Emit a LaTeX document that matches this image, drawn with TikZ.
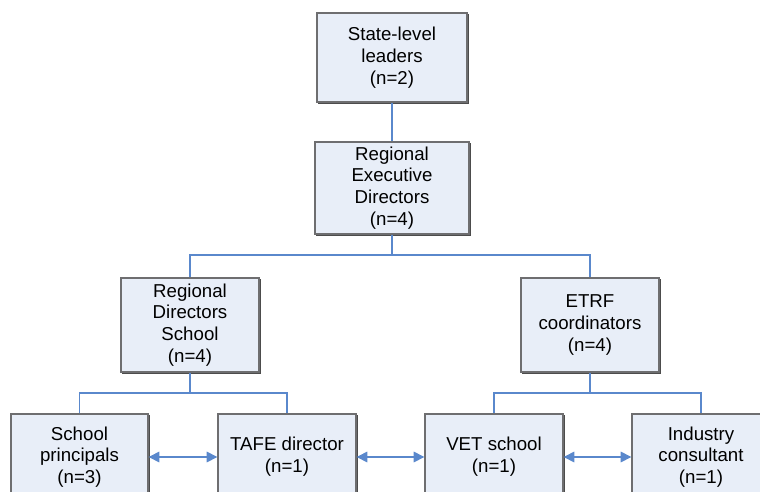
\documentclass[tikz,border=0pt]{standalone}
\usepackage{fontspec}
\setmainfont{Liberation Sans}
\usetikzlibrary{arrows.meta,shadows}
\definecolor{boxfill}{HTML}{E8EEF8}
\definecolor{boxline}{HTML}{6E6E70}
\definecolor{conn}{HTML}{5A88CC}
\begin{document}
\begin{tikzpicture}[x=0.75pt,y=-0.75pt,
  orgbox/.style={draw=boxline,line width=1pt,fill=boxfill,align=center,
    font=\fontsize{14pt}{16.3pt}\selectfont,inner sep=0pt,
    copy shadow={shadow xshift=0.9pt,shadow yshift=-0.9pt,draw=black!70,fill=black!70}},
  link/.style={draw=conn,line width=0.9pt},
  biarrow/.style={link,{Triangle[length=8pt,width=8pt]}-{Triangle[length=8pt,width=8pt]},fill=conn}]
\useasboundingbox (0,0) rectangle (760,492);
\begin{scope}
\clip (0,0) rectangle (760,492);
\node[orgbox,minimum width=112.5pt,minimum height=66.75pt] (state) at (392,57.5) {State-level\\leaders\\(n=2)};
\node[orgbox,minimum width=115.5pt,minimum height=69pt] (red) at (392,188) {Regional\\Executive\\Directors\\(n=4)};
\node[orgbox,minimum width=103.5pt,minimum height=70.5pt] (rds) at (190,325) {Regional\\Directors\\School\\(n=4)};
\node[orgbox,minimum width=103.5pt,minimum height=70.5pt] (etrf) at (590,325) {ETRF\\coordinators\\(n=4)};
\node[orgbox,minimum width=102.75pt,minimum height=64.5pt] (sp) at (79.5,457) {School\\principals\\(n=3)};
\node[orgbox,minimum width=103.5pt,minimum height=64.5pt] (tafe) at (287,457) {TAFE director\\(n=1)};
\node[orgbox,minimum width=103.5pt,minimum height=64.5pt] (vet) at (494,457) {VET school\\(n=1)};
\node[orgbox,minimum width=103.5pt,minimum height=64.5pt] (ind) at (701,457) {Industry\\consultant\\(n=1)};
\coordinate (j1) at (392,255);
\coordinate (j2) at (190,393);
\coordinate (j3) at (590,393);
\draw[link] (state.south) -- (red.north);
\draw[link] (red.south) -- (j1);
\draw[link] (rds.north) |- (j1) -| (etrf.north);
\draw[link] (rds.south) -- (j2);
\draw[link] (sp.north) |- (j2) -| (tafe.north);
\draw[link] (etrf.south) -- (j3);
\draw[link] (vet.north) |- (j3) -| (ind.north);
\draw[biarrow] (sp.east) -- (tafe.west);
\draw[biarrow] (tafe.east) -- (vet.west);
\draw[biarrow] (vet.east) -- (ind.west);
\end{scope}
\end{tikzpicture}
\end{document}
